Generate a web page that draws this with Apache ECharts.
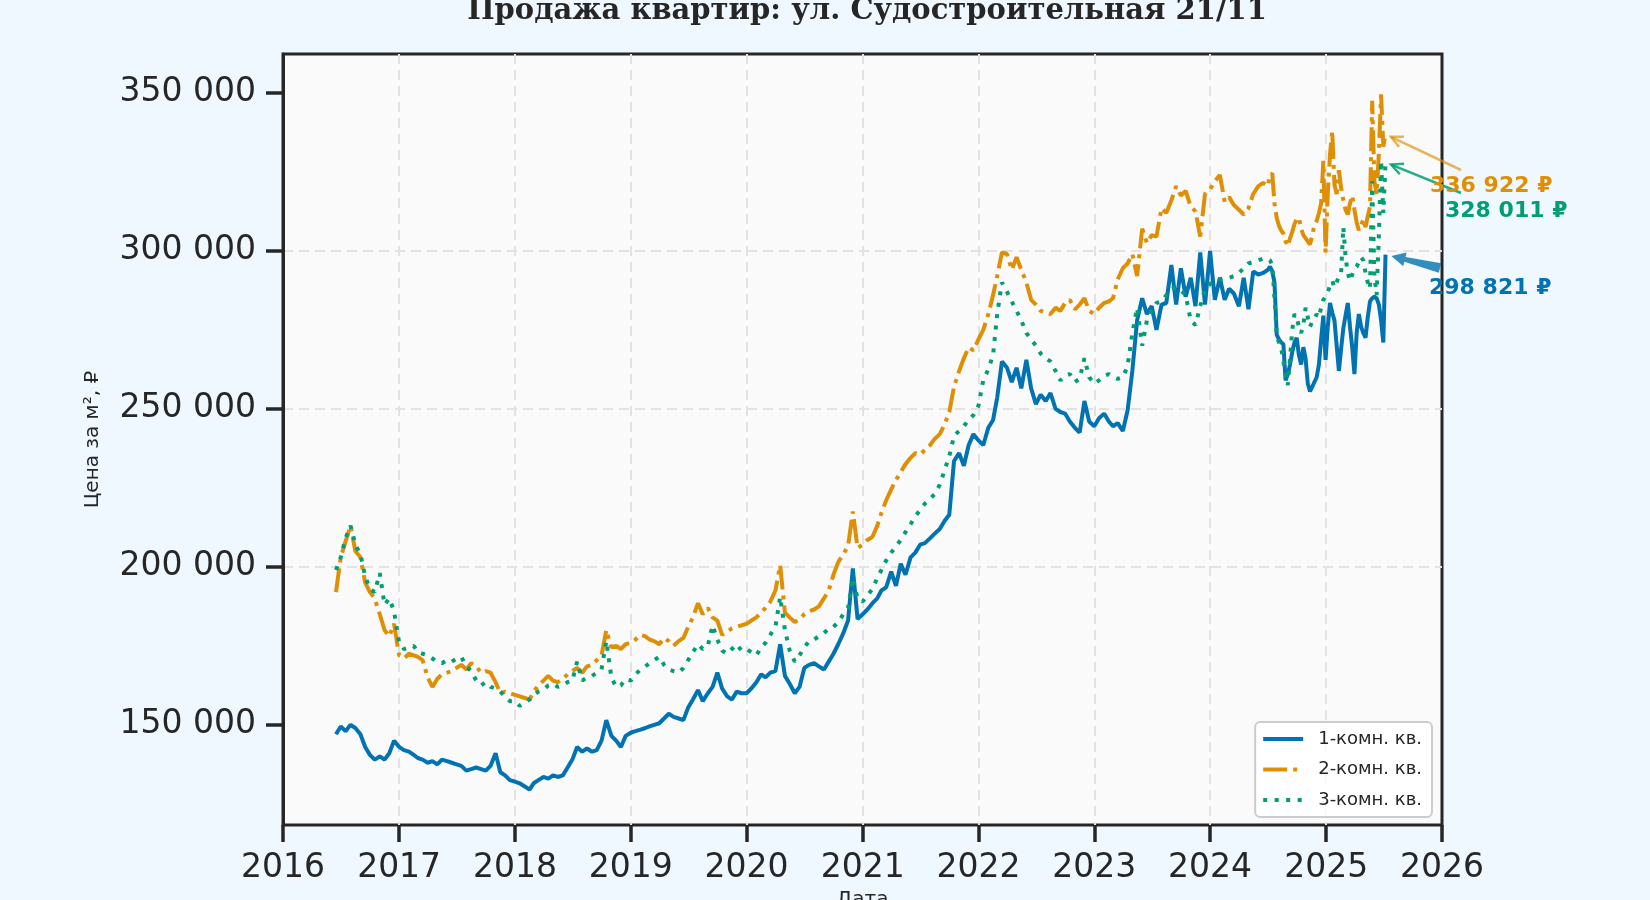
<!DOCTYPE html>
<html>
<head>
<meta charset="utf-8">
<title>Продажа квартир</title>
<script src="https://cdn.jsdelivr.net/npm/echarts@6/dist/echarts.min.js"></script>
<style>
    html, body { margin: 0; padding: 0; background: #f0f8ff; }
    #main { width: 1650px; height: 900px; }
</style>
</head>
<body>
<div id="main"></div>
<script>
// даты: раз в полмесяца до середины 2024, дальше еженедельно
var halfMonthDates = [];
for (var y = 2016; y <= 2024; y++) {
    for (var m = 1; m <= 12; m++) {
        [1, 16].forEach(function (d) {
            var s = y + '-' + (m < 10 ? '0' + m : m) + '-' + (d < 10 ? '0' + d : d);
            if (s >= '2016-06-16' && s <= '2024-06-16') halfMonthDates.push(s);
        });
    }
}
var weeklyDates = [];
for (var k = 0; k < 54; k++) {
    weeklyDates.push(new Date(Date.UTC(2024, 6, 1) + k * 7 * 86400000).toISOString().slice(0, 10));
}
var dates = halfMonthDates.concat(weeklyDates);

var seriesNames = ['1-комн. кв.', '2-комн. кв.', '3-комн. кв.'];

var oneRoom = [
    147000, 149500, 148000, 150000, 149000, 147000, 143000, 140500, 139000, 140000, 139000, 141000, 145000,
    143000, 142000, 141500, 140500, 139500, 139000, 138000, 138500, 137500, 139000, 138500, 138000, 137500, 137000, 135500, 136000, 136500, 136000, 135500, 137000, 141000, 135000, 134000, 132500,
    132000, 131500, 130500, 129500, 131500, 132500, 133500, 133000, 134000, 133500, 134000, 136500, 139000, 143000, 141500, 142500, 141500, 142000, 145000, 151500, 146500, 145000, 143000, 146500,
    147500, 148000, 148500, 149000, 149500, 150000, 150500, 152000, 153500, 152500, 152000, 151500, 155500, 158000, 161000, 157500, 160000, 162000, 166500, 161500, 159000, 158000, 160500, 160000,
    160000, 161500, 163500, 166000, 165000, 166500, 167000, 175500, 165500, 163000, 160000, 162000, 168000, 169000, 169500, 168500, 167500, 170000, 172500, 175500, 179000, 183000, 199500, 183500,
    185000, 186500, 188500, 190000, 192500, 193500, 198500, 194000, 201000, 197500, 203000, 204500, 207000, 207500, 209000, 210500, 212000, 214500, 216500, 233500, 236000, 232000, 238500, 242000,
    240000, 238500, 244000, 246500, 253500, 265000, 263000, 258500, 263000, 256500, 265500, 256500, 251500, 254500, 252500, 255000, 250000, 249000, 248500, 246000, 244000, 242500, 252500, 246000,
    244500, 247000, 248500, 246000, 244500, 245500, 243000, 249500, 262000, 278000, 285000, 280000, 282500, 275000, 283000, 283500, 295500, 283000, 294500, 285500, 291500, 282500, 299500, 283000,
    300000, 284500, 291500, 284500, 288000, 286500, 282500, 291500, 281500, 293500, 292500, 293000,
    294000, 295000, 293500, 290000, 273500, 272000, 271000, 270500, 259000, 261000,
    264000, 268000, 271000, 272500, 267000, 264000, 269500, 266000, 258000, 255500,
    257000, 258500, 260000, 264000, 272000, 279500, 265500, 276000, 283500, 280500,
    278000, 270000, 262000, 269000, 275500, 279500, 283500, 276000, 269500, 261000,
    274000, 280000, 276000, 274000, 272500, 279000, 284000, 285000, 285500, 285000,
    283000, 278000, 271000, 298821
];

var twoRoom = [
    192000, 203000, 208000, 213000, 205000, 203000, 195000, 192000, 190000, 185000, 180000, 178000, 182000,
    172000, 171000, 172500, 172000, 171500, 170500, 165000, 162000, 164500, 166000, 166500, 167000, 168000, 169000, 167500, 169500, 168500, 166500, 167000, 166500, 163500, 160000, 160500, 160000,
    159500, 159000, 158500, 158000, 160500, 162500, 164000, 165500, 164000, 163500, 164500, 166000, 167000, 168000, 166500, 168500, 169000, 170500, 172000, 180000, 174500, 175000, 174000, 175500,
    176000, 177000, 178500, 178000, 177000, 176500, 175500, 177500, 176500, 175000, 176500, 177500, 181000, 184000, 188500, 185000, 187000, 184000, 183000, 178500, 179500, 180500, 181000, 181500,
    182000, 183000, 184000, 185500, 187000, 189000, 192500, 200500, 185500, 184000, 182500, 183500, 185000, 186000, 186500, 187500, 190000, 192500, 197500, 201500, 204000, 206500, 217500, 206000,
    207000, 208500, 209500, 213000, 217000, 221000, 224500, 227500, 230000, 232500, 234500, 236000, 235500, 237000, 238500, 240500, 242000, 245000, 249000, 257000, 262000, 266000, 269500, 268500,
    272000, 275000, 280000, 286000, 292000, 299500, 299000, 294000, 298000, 294000, 290000, 284500, 283000, 281000, 280500, 280000, 282000, 281000, 283500, 284500, 281500, 283000, 285000, 281000,
    280000, 282000, 283500, 284000, 285000, 291000, 294500, 296000, 299000, 292000, 307000, 302500, 305000, 304500, 313500, 312000, 316000, 320500, 317500, 319000, 314000, 312500, 304500, 318000,
    319500, 322000, 324000, 315500, 317000, 314500, 313000, 311500, 313500, 318000, 320500, 321500,
    320500, 324000, 324500, 315000, 310500, 308000, 306500, 305500, 303000, 301500,
    304000, 306000, 308500, 310000, 310500, 307000, 305000, 304000, 303000, 302000,
    305000, 308000, 309500, 312000, 315000, 328500, 299500, 318000, 330500, 338000,
    321000, 318000, 325500, 320000, 316000, 313000, 311500, 315000, 317500, 313000,
    309000, 306500, 308000, 310000, 307500, 311000, 314000, 347500, 322000, 318000,
    331000, 349500, 333000, 336922
];

var threeRoom = [
    199000, 203000, 209000, 213000, 207000, 204000, 197000, 193000, 192000, 198000, 188000, 190000, 186000,
    176000, 174000, 174500, 175000, 173000, 172500, 172000, 171000, 170000, 169500, 170500, 170000, 171000, 171500, 168500, 167000, 164000, 162500, 163500, 162000, 161500, 160500, 159000, 157500,
    157500, 156000, 157000, 158000, 159500, 160500, 161000, 162500, 163000, 162000, 162500, 163500, 164000, 170000, 164000, 165000, 165500, 166500, 167500, 176500, 165000, 162000, 162500, 164500,
    164000, 166000, 167500, 168500, 169500, 170500, 171500, 169000, 167500, 167000, 166500, 168000, 170500, 173000, 175500, 174000, 175000, 181500, 177000, 173500, 172500, 174000, 175500, 173500,
    174000, 173000, 172000, 174500, 176000, 178500, 181000, 190500, 180000, 173500, 170000, 172000, 174500, 176500, 177000, 178000, 179000, 180500, 181000, 182500, 185000, 187000, 196500, 190000,
    189000, 191000, 193000, 196500, 199000, 202000, 204500, 206500, 208500, 211000, 213500, 216000, 218000, 220000, 221500, 223000, 226000, 230500, 235000, 241500, 243000, 244500, 246500, 248000,
    251000, 259000, 262500, 267000, 280000, 290000, 287000, 284000, 281000, 278000, 274000, 272000, 270000, 267500, 266000, 265000, 262000, 259000, 260500, 261000, 258500, 259500, 266000, 260000,
    258000, 259000, 260500, 261000, 260000, 259500, 260000, 263500, 274000, 282000, 270000, 278000, 281000, 283500, 284000, 286000, 288000, 288500, 287500, 286000, 278000, 276500, 282500, 288000,
    289500, 290500, 291000, 291500, 291500, 292000, 293000, 294500, 296000, 296500, 297000, 297500,
    297500, 297000, 295500, 285000, 273500, 271000, 269500, 265000, 261000, 257500,
    266000, 275000, 280000, 279000, 276000, 274000, 276500, 282000, 279000, 276000,
    277500, 278500, 280000, 279000, 282000, 284500, 285500, 287000, 289000, 290500,
    288500, 290000, 292000, 293000, 307500, 298000, 293000, 290500, 292500, 294500,
    295000, 296500, 298000, 297000, 293000, 290000, 288000, 322000, 292000, 286000,
    305000, 328500, 312000, 328011
];

var yTicks = [150000, 200000, 250000, 300000, 350000];

function fmt(v) {
    return String(v).replace(/\B(?=(\d{3})+(?!\d))/g, ' ');
}

function pairs(values) {
    return values.map(function (v, i) { return [dates[i], v]; });
}

var textColor = '#262626';
var colors = ['#0173b2', '#de8f05', '#029e73'];
var gridLine = { show: true, showMinLine: false, showMaxLine: false, lineStyle: { color: '#e2e2e2', width: 2, type: [10, 6] } };

var myChart = echarts.init(document.getElementById('main'));

var option = {
    animation: false,
    backgroundColor: '#f0f8ff',
    color: colors,
    title: {
        text: 'Продажа квартир: ул. Судостроительная 21/11',
        left: 862,
        textAlign: 'center',
        top: -8,
        textStyle: {
            fontFamily: "'DejaVu Serif', serif",
            fontWeight: 'bold',
            fontSize: 29,
            color: textColor
        }
    },
    grid: {
        left: 283,
        right: 208,
        top: 54,
        bottom: 75,
        containLabel: false,
        outerBoundsMode: 'none',
        show: true,
        backgroundColor: '#fafafa',
        borderColor: textColor,
        borderWidth: 3
    },
    legend: {
        orient: 'vertical',
        right: 218,
        bottom: 83,
        itemWidth: 40,
        itemHeight: 16,
        itemGap: 12.5,
        padding: [8, 10, 8, 6],
        backgroundColor: 'rgba(255,255,255,0.85)',
        borderColor: '#cccccc',
        borderWidth: 2,
        borderRadius: 5,
        itemStyle: { opacity: 0 },
        lineStyle: { width: 4 },
        textStyle: {
            fontFamily: 'DejaVu Sans',
            fontSize: 18,
            color: textColor,
            padding: [0, 0, 0, 10]
        },
        data: seriesNames
    },
    xAxis: {
        type: 'time',
        min: '2016-01-01',
        max: '2026-01-01',
        minInterval: 365 * 86400000,
        maxInterval: 366 * 86400000,
        name: 'Дата',
        nameLocation: 'middle',
        nameGap: 64,
        nameTextStyle: { fontFamily: 'DejaVu Sans', fontSize: 20, color: textColor },
        axisLine: { show: false },
        axisTick: { show: true, length: 17, lineStyle: { color: textColor, width: 3.5 } },
        axisLabel: {
            margin: 27,
            fontFamily: 'DejaVu Sans',
            fontSize: 33,
            color: textColor,
            showMinLabel: true,
            showMaxLabel: true,
            formatter: function (v) { return String(new Date(v).getFullYear()); }
        },
        splitLine: gridLine
    },
    yAxis: {
        type: 'value',
        min: 118300,
        max: 362300,
        name: 'Цена за м², ₽',
        nameLocation: 'middle',
        nameGap: 180,
        nameTextStyle: { fontFamily: 'DejaVu Sans', fontSize: 20, color: textColor },
        axisLine: { show: true, lineStyle: { color: textColor, width: 3 } },
        axisTick: { show: true, length: 17, customValues: yTicks, lineStyle: { color: textColor, width: 3.5 } },
        axisLabel: {
            margin: 27,
            fontFamily: 'DejaVu Sans',
            fontSize: 33,
            color: textColor,
            customValues: yTicks,
            formatter: fmt
        },
        splitLine: gridLine
    },
    series: [
        {
            name: seriesNames[0],
            type: 'line',
            symbol: 'none',
            data: pairs(oneRoom),
            lineStyle: { width: 4, color: colors[0] }
        },
        {
            name: seriesNames[1],
            type: 'line',
            symbol: 'none',
            data: pairs(twoRoom),
            lineStyle: { width: 4, color: colors[1], type: [24, 6, 4, 6] }
        },
        {
            name: seriesNames[2],
            type: 'line',
            symbol: 'none',
            data: pairs(threeRoom),
            lineStyle: { width: 4, color: colors[2], type: [4, 7.5] }
        }
    ]
};

myChart.setOption(option);

// подписи последних значений со стрелками
var notes = [
    { values: twoRoom, color: colors[1], textAt: [1430, 186], from: [1461, 170], opacity: 0.65, wedge: false },
    { values: threeRoom, color: colors[2], textAt: [1445, 211], from: [1461, 193], opacity: 0.85, wedge: false },
    { values: oneRoom, color: colors[0], textAt: [1429, 288], from: [1440, 268], opacity: 0.8, wedge: true }
];

var elements = [];
notes.forEach(function (n) {
    var last = n.values[n.values.length - 1];
    var p = myChart.convertToPixel({ gridIndex: 0 }, [dates[dates.length - 1], last]);
    var dx = p[0] - n.from[0], dy = p[1] - n.from[1];
    var len = Math.sqrt(dx * dx + dy * dy);
    var ux = dx / len, uy = dy / len, nx = -uy, ny = ux;
    var tip = [p[0] - ux * 6, p[1] - uy * 6];
    if (n.wedge) {
        var neck = [tip[0] - ux * 14, tip[1] - uy * 14];
        elements.push({
            type: 'polygon', z: 100,
            shape: { points: [
                [n.from[0] + nx * 5, n.from[1] + ny * 5],
                [neck[0] + nx * 2.5, neck[1] + ny * 2.5],
                [neck[0] + nx * 7, neck[1] + ny * 7],
                tip,
                [neck[0] - nx * 7, neck[1] - ny * 7],
                [neck[0] - nx * 2.5, neck[1] - ny * 2.5],
                [n.from[0] - nx * 5, n.from[1] - ny * 5]
            ] },
            style: { fill: n.color, opacity: n.opacity }
        });
    } else {
        var a = 0.45, hl = 13;
        var b1 = [tip[0] - hl * (ux * Math.cos(a) - uy * Math.sin(a)), tip[1] - hl * (uy * Math.cos(a) + ux * Math.sin(a))];
        var b2 = [tip[0] - hl * (ux * Math.cos(a) + uy * Math.sin(a)), tip[1] - hl * (uy * Math.cos(a) - ux * Math.sin(a))];
        elements.push({
            type: 'line', z: 100,
            shape: { x1: n.from[0], y1: n.from[1], x2: tip[0], y2: tip[1] },
            style: { stroke: n.color, lineWidth: 2.5, opacity: n.opacity }
        });
        elements.push({
            type: 'polyline', z: 100,
            shape: { points: [b1, tip, b2] },
            style: { stroke: n.color, lineWidth: 2.5, opacity: n.opacity, fill: null }
        });
    }
    elements.push({
        type: 'text', z: 101,
        x: n.textAt[0], y: n.textAt[1],
        style: {
            text: fmt(last) + ' ₽',
            fill: n.color,
            font: 'bold 22px "DejaVu Sans"',
            verticalAlign: 'middle',
            align: 'left'
        }
    });
});

myChart.setOption({ graphic: elements });
</script>
</body>
</html>
